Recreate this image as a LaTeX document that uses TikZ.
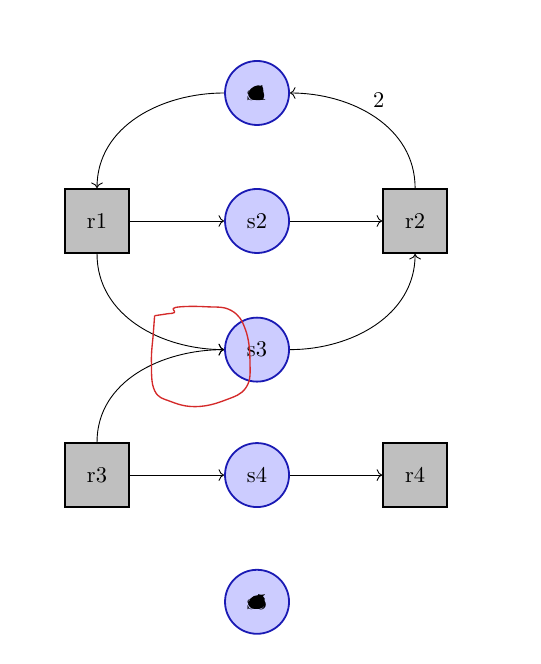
\documentclass[tikz,border=0pt]{standalone}
\usetikzlibrary{arrows.meta, positioning}
\definecolor{placeBlue}{HTML}{CCCCFF}
\definecolor{placeEdge}{HTML}{1A1AB4}
\definecolor{scribRed}{HTML}{D42A2A}
\tikzset{
  place/.style={circle, draw=placeEdge, fill=placeBlue, thick, minimum size=1cm, inner sep=0pt},
  trans/.style={rectangle, draw=black, fill=black!25, thick, minimum size=1cm, inner sep=0pt},
  arw/.style={->, draw=black},
  lbl/.style={font=\normalsize, inner sep=2pt},
  scrib/.style={draw=scribRed, line width=0.6pt, line join=round}
}
\begin{document}
\begin{tikzpicture}
  \useasboundingbox (-4.016,3.453) rectangle (4.422,-6.922);
  % ── Places ──
  \node[place] (s1) at (0,2) {s1};
  \node[place] (s2) at (0,0) {s2};
  \node[place] (s3) at (0,-2.01) {s3};
  \node[place] (s4) at (0,-3.97) {s4};
  \node[place] (s5) at (0,-5.95) {s5};

  % ── Transitions ──
  \node[trans] (r1) at (-2.5,0) {r1};
  \node[trans] (r2) at (2.47,0) {r2};
  \node[trans] (r3) at (-2.5,-3.97) {r3};
  \node[trans] (r4) at (2.47,-3.97) {r4};

  % ── Arcs ──
  \draw[arw] (s1.west) to[out=180, in=90] (r1.north);
  \draw[arw] (r2.north) to[out=90, in=0] node[lbl, pos=0.55, above right=0pt]{2} (s1.east);
  \draw[arw] (r1) -- (s2);
  \draw[arw] (s2) -- (r2);
  \draw[arw] (r1.south) to[out=-90, in=180] (s3.west);
  \draw[arw] (s3.east) to[out=0, in=-90] (r2.south);
  \draw[arw] (r3.north) to[out=90, in=180] (s3.west);
  \draw[arw] (r3) -- (s4);
  \draw[arw] (s4) -- (r4);

  % ── Scribbles ──
  \fill[black] plot[smooth cycle, tension=0.8] coordinates {([shift={(-0.13,0.01)}]s1.center) ([shift={(-0.05,0.1)}]s1.center) ([shift={(0.07,0.11)}]s1.center) ([shift={(0.1,0.02)}]s1.center) ([shift={(0.1,-0.09)}]s1.center) ([shift={(-0.02,-0.11)}]s1.center) ([shift={(-0.11,-0.08)}]s1.center)};
  \fill[black] plot[smooth cycle, tension=0.8] coordinates {([shift={(-0.13,0.0)}]s5.center) ([shift={(-0.05,0.09)}]s5.center) ([shift={(0.09,0.09)}]s5.center) ([shift={(0.12,0.0)}]s5.center) ([shift={(0.09,-0.09)}]s5.center) ([shift={(-0.04,-0.11)}]s5.center) ([shift={(-0.12,-0.07)}]s5.center)};
  \draw[scrib] plot[smooth, tension=0.7] coordinates {(-1.60,-1.48) (-1.40,-1.45) (-1.29,-1.43) (-1.27,-1.35) (-0.80,-1.34) (-0.40,-1.40) (-0.18,-1.70) (-0.11,-2.20) (-0.17,-2.60) (-0.50,-2.80) (-0.95,-2.90) (-1.35,-2.82) (-1.60,-2.65) (-1.65,-2.20) (-1.62,-1.75) (-1.60,-1.48)};
\end{tikzpicture}
\end{document}
